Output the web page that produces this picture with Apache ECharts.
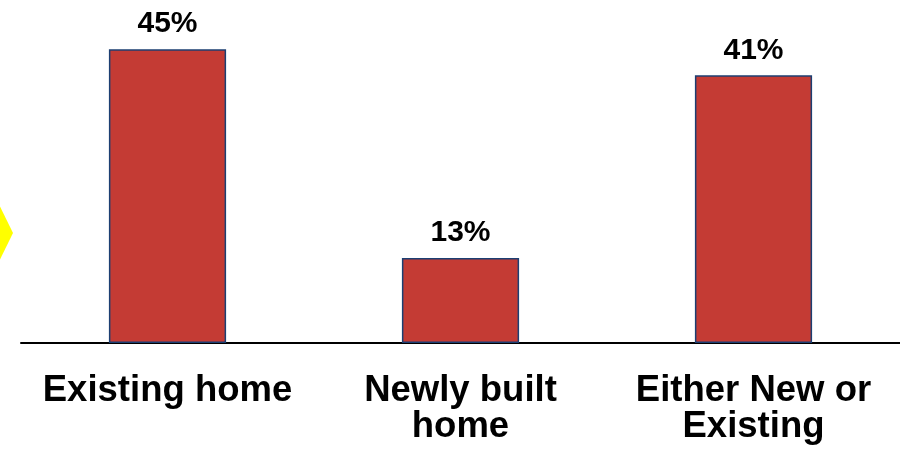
<!DOCTYPE html>
<html>
<head>
<meta charset="utf-8">
<script src="https://cdn.jsdelivr.net/npm/echarts@6/dist/echarts.min.js"></script>
<style>
  html, body { margin: 0; padding: 0; background: #ffffff; }
  #chart { width: 900px; height: 452px; }
</style>
</head>
<body>
<div id="chart"></div>
<script>
// Home type preference shares (percent)
const categories = ['Existing home', 'Newly built\nhome', 'Either New or\nExisting'];
const shares = [45, 13, 41];

const chart = echarts.init(document.getElementById('chart'), null, { renderer: 'canvas' });

chart.setOption({
  animation: false,
  backgroundColor: '#ffffff',
  grid: { left: 21, top: 16.5, width: 882, height: 326.5, containLabel: false },
  xAxis: {
    type: 'category',
    data: categories,
    axisLine: { show: true, lineStyle: { color: '#000000', width: 2 } },
    axisTick: { show: false },
    axisLabel: {
      interval: 0,
      margin: 30,
      color: '#000000',
      fontFamily: 'Liberation Sans, Arial, sans-serif',
      fontWeight: 'bold',
      fontSize: 36.5,
      lineHeight: 36
    }
  },
  yAxis: {
    type: 'value',
    min: 0,
    max: 50,
    show: false,
    splitLine: { show: false }
  },
  graphic: [
    {
      type: 'polygon',
      shape: { points: [[13, 233], [0, 206.5], [0, 259.5]] },
      style: { fill: '#FFFF00' },
      silent: true
    }
  ],
  series: [
    {
      type: 'bar',
      data: shares,
      barWidth: '40%',
      itemStyle: {
        color: '#C43B34',
        borderColor: '#1C3F72',
        borderWidth: 1.5
      },
      label: {
        show: true,
        position: 'top',
        distance: 10,
        formatter: '{c}%',
        color: '#000000',
        fontFamily: 'Liberation Sans, Arial, sans-serif',
        fontWeight: 'bold',
        fontSize: 30
      }
    }
  ]
});
</script>
</body>
</html>
